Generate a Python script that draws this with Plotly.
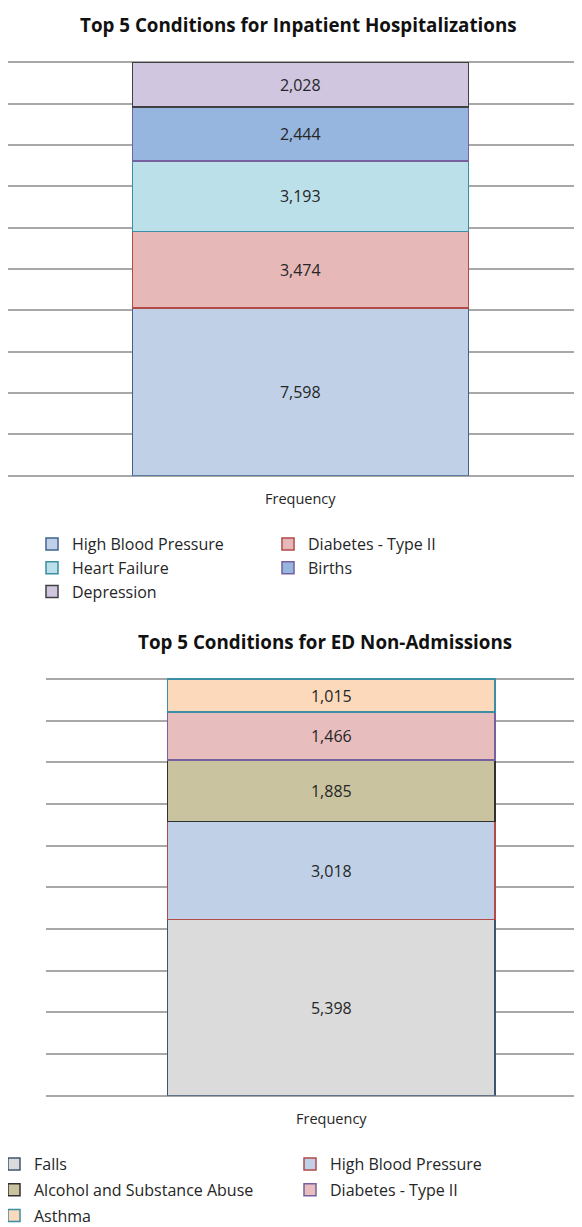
import plotly.graph_objects as go

W, H = 582, 1227
OFF = 8  # the page body adds an 8px margin, so positions are shifted by it

# data
CATEGORY = ['Frequency']

INPATIENT_CONDITIONS = ['High Blood Pressure', 'Diabetes - Type II', 'Heart Failure', 'Births', 'Depression']
INPATIENT_COUNTS = [7598, 3474, 3193, 2444, 2028]
INPATIENT_COLUMN = [1, 2, 1, 2, 1]

ED_CONDITIONS = ['Falls', 'High Blood Pressure', 'Alcohol and Substance Abuse', 'Diabetes - Type II', 'Asthma']
ED_COUNTS = [5398, 3018, 1885, 1466, 1015]
ED_COLUMN = [1, 2, 1, 2, 1]

INPATIENT_FILL = ['#C0D1E7', '#E6B9B8', '#BCE0E9', '#96B5DF', '#D0C6DF']
INPATIENT_EDGE = ['#3E6390', '#B34A47', '#3B8EA3', '#7660A0', '#404040']
ED_FILL = ['#DBDBDB', '#C0D1E7', '#C9C39F', '#E8BDBE', '#FCD9BA']
ED_EDGE = ['#3E5570', '#B34A47', '#303030', '#7660A0', '#3B8EA3']

FONT = '"Open Sans", Lato, sans-serif'
TXT = '#262626'
GRID = '#A8A8A8'


def fx(v):
    return (v - OFF) / W


def fy(v):
    return 1 - (v - OFF) / H


fig = go.Figure()

for name, val, fill, edge, col in zip(INPATIENT_CONDITIONS, INPATIENT_COUNTS, INPATIENT_FILL,
                                      INPATIENT_EDGE, INPATIENT_COLUMN):
    fig.add_trace(go.Bar(
        x=CATEGORY, y=[val], name=name, width=0.6, legendgroup='a' + name,
        marker=dict(color=fill, line=dict(color=edge, width=1.5)),
        text=[f'{val:,}'], textposition='inside', insidetextanchor='middle',
        textangle=0, constraintext='none',
        textfont=dict(size=16, color=TXT, family=FONT),
        xaxis='x', yaxis='y', legend='legend' if col == 1 else 'legend2',
    ))

for name, val, fill, edge, col in zip(ED_CONDITIONS, ED_COUNTS, ED_FILL, ED_EDGE, ED_COLUMN):
    fig.add_trace(go.Bar(
        x=CATEGORY, y=[val], name=name, width=0.6, legendgroup='b' + name,
        marker=dict(color=fill, line=dict(color=edge, width=1.5)),
        text=[f'{val:,}'], textposition='inside', insidetextanchor='middle',
        textangle=0, constraintext='none',
        textfont=dict(size=16, color=TXT, family=FONT),
        xaxis='x2', yaxis='y2', legend='legend3' if col == 1 else 'legend4',
    ))

yax = dict(range=[0, 100.5], dtick=10, showticklabels=False, showgrid=True,
           gridcolor=GRID, gridwidth=1.5, zeroline=True, zerolinecolor=GRID,
           zerolinewidth=1.5, fixedrange=True)
xax = dict(showgrid=False, zeroline=False, showline=False, ticks='',
           tickfont=dict(size=14.5, color=TXT, family=FONT),
           ticklabelstandoff=13, fixedrange=True)


def legend_box(x, y, gap):
    return dict(orientation='v', x=fx(x), y=fy(y), xanchor='left', yanchor='top',
                traceorder='grouped', tracegroupgap=gap, bgcolor='rgba(0,0,0,0)',
                font=dict(size=16, color=TXT, family=FONT))


fig.update_layout(
    width=W, height=H,
    margin=dict(l=0, r=0, t=0, b=0, autoexpand=False),
    paper_bgcolor='white', plot_bgcolor='rgba(0,0,0,0)',
    font=dict(family=FONT, color=TXT),
    barmode='stack', barnorm='percent',
    showlegend=True,
    xaxis=dict(**xax, domain=[0, 1], range=[-0.5219, 0.5174]),
    yaxis=dict(**yax, domain=[fy(475.7), fy(60.2)]),
    xaxis2=dict(**xax, domain=[fx(45.7), 1], range=[-0.5236, 0.4742], anchor='y2'),
    yaxis2=dict(**yax, domain=[fy(1095.7), fy(676.9)], anchor='x2'),
    legend=legend_box(32, 527, 0),
    legend2=legend_box(268, 527, 0),
    legend3=legend_box(-6, 1147, 2),
    legend4=legend_box(290, 1147, 2),
    annotations=[
        dict(text='<b>Top 5 Conditions for Inpatient Hospitalizations</b>', x=fx(298), y=fy(25),
             xref='paper', yref='paper', showarrow=False, xanchor='center', yanchor='middle',
             font=dict(size=18.8, color='#111111', family=FONT)),
        dict(text='<b>Top 5 Conditions for ED Non-Admissions</b>', x=fx(325), y=fy(642),
             xref='paper', yref='paper', showarrow=False, xanchor='center', yanchor='middle',
             font=dict(size=18.8, color='#111111', family=FONT)),
    ],
)

fig.write_html('out.html')
